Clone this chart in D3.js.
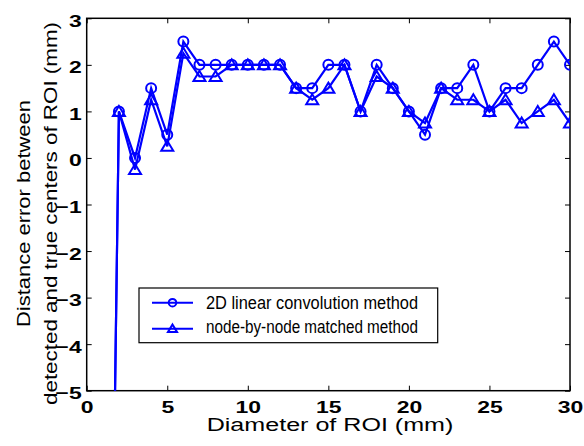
<!DOCTYPE html>
<html>
<head>
<meta charset="utf-8">
<script src="https://cdn.jsdelivr.net/npm/d3@7"></script>
</head>
<body style="margin:0;background:#fff">
<svg class="chart"></svg>
<script>
var width = 584,
    height = 446;

// diameter of ROI (mm); first point sits far below the axis and gets clipped
var diameters = [1, 2, 3, 4, 5, 6, 7, 8, 9, 10, 11, 12, 13, 14, 15, 16, 17, 18, 19, 20, 21, 22, 23, 24, 25, 26, 27, 28, 29, 30];
var convErrors = [-24, 1, 0, 1.5, 0.5, 2.5, 2, 2, 2, 2, 2, 2, 1.5, 1.5, 2, 2, 1, 2, 1.5, 1, 0.5, 1.5, 1.5, 2, 1, 1.5, 1.5, 2, 2.5, 2];
var nodeErrors = [-24, 1, -0.25, 1.25, 0.25, 2.25, 1.75, 1.75, 2, 2, 2, 2, 1.5, 1.25, 1.5, 2, 1, 1.75, 1.5, 1, 0.75, 1.5, 1.25, 1.25, 1, 1.25, 0.75, 1, 1.25, 0.75];
var seriesNames = ["2D linear convolution method", "node-by-node matched method"];
var xTicks = [0, 5, 10, 15, 20, 25, 30];
var yTicks = [-5, -4, -3, -2, -1, 0, 1, 2, 3];

var font = "Arial, 'Liberation Sans', sans-serif";
var plotL = 86.7, plotR = 570, plotT = 18.3, plotB = 390.7;
var stretch = 1.35;   // the original lettering is wide

var svg = d3.select(".chart")
    .attr("width", width)
    .attr("height", height)
    .style("display", "block")
    .attr("font-family", font);

var x = d3.scaleLinear().domain([0, 30]).range([plotL, plotR]);
var y = d3.scaleLinear().domain([-5, 3]).range([plotB, plotT]);

svg.append("clipPath")
    .attr("id", "plot-clip")
  .append("rect")
    .attr("x", plotL).attr("y", plotT)
    .attr("width", plotR - plotL).attr("height", plotB - plotT);

// box with inward ticks on all sides
var tickLen = 5;
function boxAxis(axis, transform) {
    var g = svg.append("g")
        .attr("transform", transform)
        .call(axis)
        .attr("font-family", font)
        .attr("font-size", 17)
        .attr("font-weight", "bold");
    g.select(".domain").remove();
    g.selectAll(".tick line").attr("stroke", "#000").attr("stroke-width", 1);
    g.selectAll(".tick text").attr("fill", "#000");
    return g;
}

var gx = boxAxis(d3.axisBottom(x).tickValues(xTicks).tickSize(-tickLen), "translate(0," + plotB + ")");
gx.selectAll(".tick text")
    .attr("y", 22.6).attr("dy", 0)
    .attr("transform", "scale(" + stretch + ",1)");
boxAxis(d3.axisTop(x).tickValues(xTicks).tickSize(-tickLen).tickFormat(""), "translate(0," + plotT + ")");

var gy = boxAxis(d3.axisLeft(y).tickValues(yTicks).tickSize(-tickLen), "translate(" + plotL + ",0)");
gy.selectAll(".tick text")
    .attr("x", -5 / stretch).attr("dy", 8)
    .attr("transform", "scale(" + stretch + ",1)");
boxAxis(d3.axisRight(y).tickValues(yTicks).tickSize(-tickLen).tickFormat(""), "translate(" + plotR + ",0)");

svg.append("rect")
    .attr("x", plotL).attr("y", plotT)
    .attr("width", plotR - plotL).attr("height", plotB - plotT)
    .attr("fill", "none")
    .attr("stroke", "#000")
    .attr("stroke-width", 1.5);

// lines and markers
var blue = "#0000ff";
var line = d3.line()
    .x((d) => x(d[0]))
    .y((d) => y(d[1]));

var plot = svg.append("g").attr("clip-path", "url(#plot-clip)");

var series = [
    { name: seriesNames[0], values: diameters.map((d, i) => [d, convErrors[i]]), symbol: "circle" },
    { name: seriesNames[1], values: diameters.map((d, i) => [d, nodeErrors[i]]), symbol: "triangle" }
];

function marker(g, symbol, r) {
    if (symbol === "circle") {
        g.append("circle").attr("r", r);
    } else {
        g.append("path").attr("d", "M0," + (-r * 1.1) + "L" + (r * 1.2) + "," + (r * 0.9) + "L" + (-r * 1.2) + "," + (r * 0.9) + "Z");
    }
    g.selectAll("circle,path")
        .attr("fill", "none")
        .attr("stroke", blue)
        .attr("stroke-width", 2);
}

series.forEach(function(s) {
    plot.append("path")
        .datum(s.values)
        .attr("d", line)
        .attr("fill", "none")
        .attr("stroke", blue)
        .attr("stroke-width", 2.2);

    plot.selectAll(null)
        .data(s.values.filter((d) => d[1] >= -5))
        .enter()
        .append("g")
        .attr("transform", (d) => "translate(" + x(d[0]) + "," + y(d[1]) + ")")
        .each(function() { marker(d3.select(this), s.symbol, 5); });
});

// axis labels
svg.append("text")
    .attr("font-size", 17.5)
    .attr("x", 206.7)
    .attr("y", 431)
    .attr("textLength", 246.7)
    .attr("lengthAdjust", "spacingAndGlyphs")
    .text("Diameter of ROI (mm)");

var yLabel = svg.append("g")
    .attr("font-size", 17.5)
    .attr("transform", "translate(0,213.5) rotate(-90)");
yLabel.append("text").attr("x", -113.5).attr("y", 29.5)
    .attr("textLength", 227).attr("lengthAdjust", "spacingAndGlyphs")
    .text("Distance error between");
yLabel.append("text").attr("x", -191.5).attr("y", 56.5)
    .attr("textLength", 383).attr("lengthAdjust", "spacingAndGlyphs")
    .text("detected and true centers of ROI (mm)");

// legend
var legend = svg.append("g");
legend.append("rect")
    .attr("x", 139).attr("y", 288)
    .attr("width", 298.7).attr("height", 54.7)
    .attr("fill", "#fff")
    .attr("stroke", "#000")
    .attr("stroke-width", 1.2);

var legendRows = [{ line: 302.7, text: 309.3, len: 212 }, { line: 328.7, text: 333.3, len: 212 }];
series.forEach(function(s, i) {
    var r = legendRows[i];
    var row = legend.append("g");
    row.append("line")
        .attr("x1", 152).attr("x2", 193)
        .attr("y1", r.line).attr("y2", r.line)
        .attr("stroke", blue)
        .attr("stroke-width", 2);
    marker(row.append("g").attr("transform", "translate(172.5," + r.line + ")"), s.symbol, 3.8);
    row.append("text")
        .attr("font-size", 17.5)
        .attr("x", 206)
        .attr("y", r.text)
        .attr("textLength", r.len)
        .attr("lengthAdjust", "spacingAndGlyphs")
        .text(s.name);
});
</script>
</body>
</html>
